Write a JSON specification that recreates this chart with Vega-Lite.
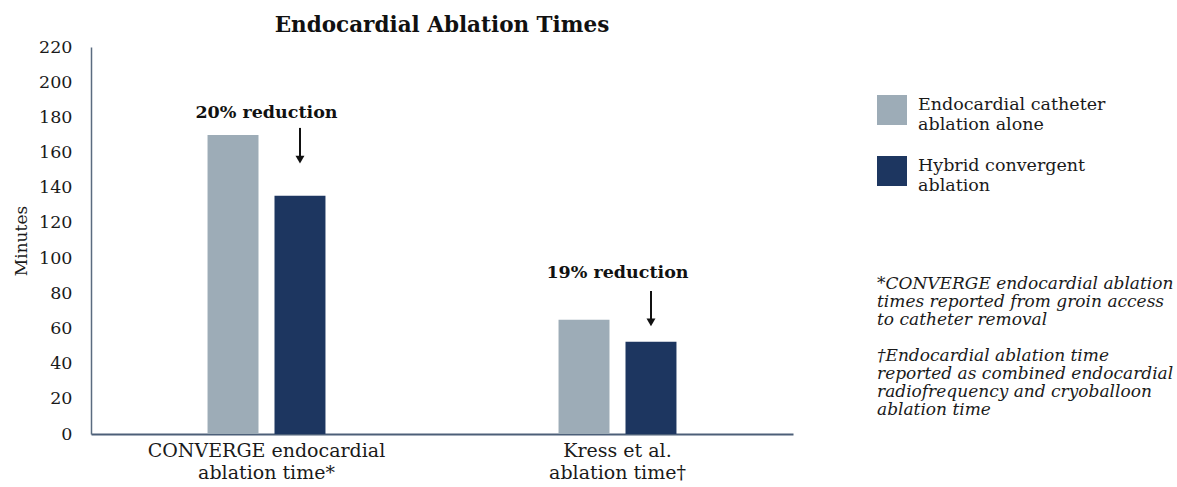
{
  "$schema": "https://vega.github.io/schema/vega-lite/v6.json",
  "width": 702,
  "height": 387,
  "autosize": {"type": "none"},
  "padding": {"left": 91, "top": 47, "right": 384, "bottom": 53},
  "title": {
    "text": "Endocardial Ablation Times",
    "font": "DejaVu Serif",
    "fontSize": 21.5,
    "fontWeight": "bold",
    "color": "#111111",
    "anchor": "middle",
    "offset": 2
  },
  "config": {
    "view": {"stroke": null},
    "font": "DejaVu Serif",
    "axisY": {
      "values": [0, 20, 40, 60, 80, 100, 120, 140, 160, 180, 200, 220],
      "grid": false,
      "ticks": false,
      "labelPadding": 19,
      "labelFontSize": 17.5,
      "labelColor": "#1a1a1a",
      "labelFont": "DejaVu Serif",
      "domainColor": "#5a6b80",
      "domainWidth": 1.5,
      "titleFont": "DejaVu Serif",
      "titleFontSize": 17,
      "titleFontWeight": "normal",
      "titleColor": "#1a1a1a",
      "titlePadding": 8
    },
    "axisX": {
      "labelAngle": 0,
      "ticks": false,
      "grid": false,
      "domainColor": "#4c5f78",
      "domainWidth": 2,
      "labelFont": "DejaVu Serif",
      "labelFontSize": 19,
      "labelLineHeight": 22,
      "labelPadding": 7,
      "labelColor": "#1a1a1a",
      "labelLimit": 400
    }
  },
  "datasets": {
    "bars": [
      {"study": "CONVERGE endocardial ablation time", "group": "Endocardial catheter ablation alone", "minutes": 170},
      {"study": "CONVERGE endocardial ablation time", "group": "Hybrid convergent ablation", "minutes": 135.5},
      {"study": "Kress et al. ablation time", "group": "Endocardial catheter ablation alone", "minutes": 65},
      {"study": "Kress et al. ablation time", "group": "Hybrid convergent ablation", "minutes": 52.5}
    ],
    "notes": [
      {"study": "CONVERGE endocardial ablation time", "group": "Hybrid convergent ablation", "label": "20% reduction", "labelY": 182.5, "arrowTop": 174, "arrowEnd": 158, "tip": 156},
      {"study": "Kress et al. ablation time", "group": "Hybrid convergent ablation", "label": "19% reduction", "labelY": 91.5, "arrowTop": 81.3, "arrowEnd": 65, "tip": 63.5}
    ]
  },
  "encoding": {
    "x": {
      "field": "study",
      "type": "nominal",
      "title": null,
      "sort": ["CONVERGE endocardial ablation time", "Kress et al. ablation time"],
      "scale": {"domain": ["CONVERGE endocardial ablation time", "Kress et al. ablation time"], "paddingInner": 0.664, "paddingOuter": 0.332},
      "axis": {
        "labelExpr": "datum.label == 'CONVERGE endocardial ablation time' ? ['CONVERGE endocardial', 'ablation time*'] : ['Kress et al.', 'ablation time†']"
      }
    }
  },
  "layer": [
    {
      "data": {"name": "bars"},
      "mark": {"type": "bar"},
      "encoding": {
        "xOffset": {
          "field": "group",
          "type": "nominal",
          "scale": {"domain": ["Endocardial catheter ablation alone", "Hybrid convergent ablation"], "paddingInner": 0.239, "paddingOuter": 0}
        },
        "y": {"field": "minutes", "type": "quantitative", "title": "Minutes", "scale": {"domain": [0, 220], "nice": false}},
        "color": {
          "field": "group",
          "type": "nominal",
          "scale": {"domain": ["Endocardial catheter ablation alone", "Hybrid convergent ablation"], "range": ["#9DACB7", "#1D3660"]},
          "legend": {
            "orient": "none",
            "legendX": 786,
            "legendY": 48,
            "padding": 0,
            "symbolType": "square",
            "symbolSize": 900,
            "symbolStrokeWidth": 0,
            "symbolOpacity": 1,
            "labelFont": "DejaVu Serif",
            "labelFontSize": 17.5,
            "labelColor": "#1a1a1a",
            "labelLineHeight": 17,
            "labelBaseline": "alphabetic",
            "labelOffset": 11,
            "labelLimit": 400,
            "rowPadding": 23,
            "labelExpr": "datum.label == 'Endocardial catheter ablation alone' ? ['Endocardial catheter', 'ablation alone'] : ['Hybrid convergent', 'ablation']",
            "title": ["*CONVERGE endocardial ablation", "times reported from groin access", "to catheter removal", "\u200b", "†Endocardial ablation time", "reported as combined endocardial", "radiofrequency and cryoballoon", "ablation time"],
            "titleOrient": "bottom",
            "titleAnchor": "start",
            "titleFont": "DejaVu Serif",
            "titleFontStyle": "italic",
            "titleFontWeight": "normal",
            "titleFontSize": 17,
            "titleLineHeight": 18,
            "titleColor": "#1a1a1a",
            "titlePadding": 82,
            "titleLimit": 400
          }
        }
      }
    },
    {
      "data": {"name": "notes"},
      "mark": {"type": "text", "font": "DejaVu Serif", "fontWeight": "bold", "fontSize": 17.5, "color": "#111111", "baseline": "middle"},
      "encoding": {
        "y": {"field": "labelY", "type": "quantitative", "title": "Minutes", "scale": {"domain": [0, 220], "nice": false}},
        "text": {"field": "label"}
      }
    },
    {
      "data": {"name": "notes"},
      "mark": {"type": "rule", "color": "#111111", "strokeWidth": 2},
      "encoding": {
        "xOffset": {"field": "group", "type": "nominal"},
        "y": {"field": "arrowTop", "type": "quantitative", "title": "Minutes", "scale": {"domain": [0, 220], "nice": false}},
        "y2": {"field": "arrowEnd"}
      }
    },
    {
      "data": {"name": "notes"},
      "mark": {"type": "point", "shape": "triangle-down", "filled": true, "size": 80, "color": "#111111", "opacity": 1},
      "encoding": {
        "xOffset": {"field": "group", "type": "nominal"},
        "y": {"field": "tip", "type": "quantitative", "title": "Minutes", "scale": {"domain": [0, 220], "nice": false}}
      }
    }
  ]
}
